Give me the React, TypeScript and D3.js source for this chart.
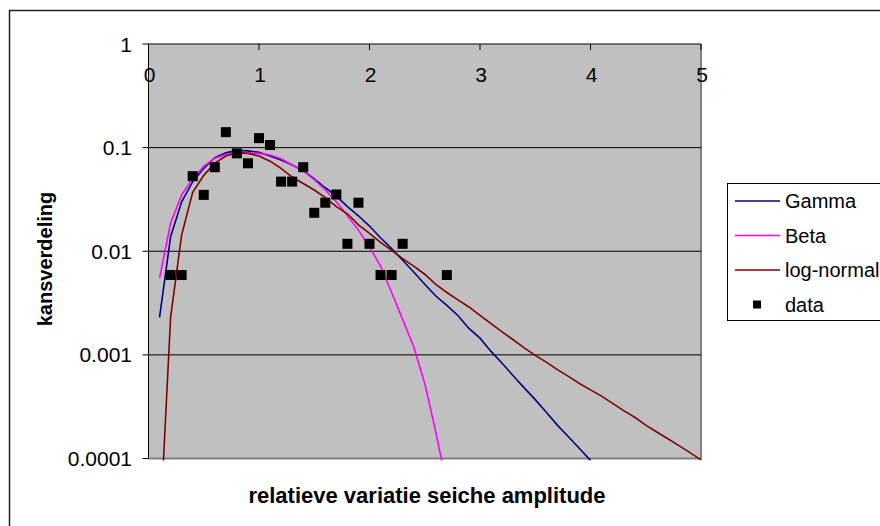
import React from "react";
import * as d3 from "d3";

const xSteps = [0.1,0.2,0.3,0.4,0.5,0.6,0.7,0.8,0.9,1.0,1.1,1.2,1.3,1.4,1.5,1.6,1.7,1.8,1.9,2.0,2.1,2.2,2.3,2.4,2.5,2.6,2.7,2.8,2.9,3.0,3.1,3.2,3.3,3.4,3.5,3.6,3.7,3.8,3.9,4.0,4.1,4.2,4.3,4.4,4.5,4.6,4.7,4.8,4.9,5.0];

const gammaValues = [0.0023,0.0138,0.030,0.047,0.063,0.080,0.089,0.094,0.093,0.090,0.083,0.076,0.068,0.060,0.050,0.041,0.034,0.027,0.022,0.0175,0.0135,0.0106,0.0082,0.0063,0.0048,0.0037,0.0030,0.0024,0.0018,0.00145,0.00108,0.00083,0.00063,0.00048,0.00037,0.00028,0.00021,0.000162,0.000125,0.000096];

const betaValues = [0.0055,0.0187,0.035,0.050,0.066,0.079,0.086,0.089,0.089,0.088,0.085,0.078,0.068,0.060,0.049,0.039,0.030,0.022,0.016,0.011,0.0072,0.0040,0.0022,0.0012,0.00053,0.00018,0.000055];

const lognormValues = [0.000017,0.0023,0.0144,0.037,0.054,0.071,0.083,0.089,0.088,0.083,0.074,0.063,0.052,0.045,0.039,0.033,0.027,0.023,0.018,0.0149,0.0122,0.0102,0.0085,0.0072,0.0060,0.0048,0.0040,0.0034,0.0029,0.0024,0.0020,0.00167,0.00140,0.00117,0.00099,0.00085,0.00072,0.00062,0.00053,0.00046,0.00040,0.00034,0.00029,0.00025,0.00021,0.00018,0.000155,0.000133,0.000114,0.000097];

const dataX = [0.2,0.3,0.4,0.5,0.6,0.7,0.8,0.9,1.0,1.1,1.2,1.3,1.4,1.5,1.6,1.7,1.8,1.9,2.0,2.1,2.2,2.3,2.7];
const dataY = [0.0059,0.0059,0.053,0.035,0.0647,0.141,0.088,0.0706,0.1235,0.106,0.047,0.047,0.0647,0.0235,0.0294,0.0353,0.0118,0.0294,0.0118,0.0059,0.0059,0.0118,0.0059];

const xTicks = [0,1,2,3,4,5];
const yTicks = [1,0.1,0.01,0.001,0.0001];
const yTickLabels = ["1","0.1","0.01","0.001","0.0001"];

const seriesNames = ["Gamma","Beta","log-normal","data"];
const seriesColors = ["#000080","#FF00FF","#800000","#000000"];

const FONT = "'Liberation Sans', Arial, sans-serif";

export default function App() {
  const left = 148.5, right = 701, top = 44, bottom = 458.5;
  const x = d3.scaleLinear().domain([0, 5]).range([left, right]);
  const y = d3.scaleLog().domain([0.0001, 1]).range([bottom, top]);

  const line = d3.line<[number, number]>().x(d => x(d[0])).y(d => y(d[1]));
  const mk = (vals: number[]) => vals.map((v, i) => [xSteps[i], v] as [number, number]);
  const curves = [mk(gammaValues), mk(betaValues), mk(lognormValues)];

  return (
    <svg width={880} height={526} style={{ position: "absolute", left: 0, top: 0, background: "#fff" }}>
      <defs>
        <clipPath id="plotClip">
          <rect x={left} y={top} width={right - left + 2} height={bottom - top + 2} />
        </clipPath>
      </defs>
      {/* outer frame */}
      <rect x={9.5} y={10.5} width={900} height={600} fill="none" stroke="#222" strokeWidth={1.5} />
      {/* plot area */}
      <rect x={left} y={top} width={right - left} height={bottom - top} fill="#C0C0C0" />
      <line x1={right} y1={top} x2={right} y2={bottom + 1} stroke="#808080" strokeWidth={2} />
      <line x1={left} y1={bottom} x2={right + 1} y2={bottom} stroke="#808080" strokeWidth={2} />
      {/* gridlines */}
      {yTicks.slice(1, 4).map((t, i) => (
        <line key={i} x1={left} x2={right} y1={y(t)} y2={y(t)} stroke="#000" strokeWidth={1} />
      ))}
      {/* curves */}
      <g clipPath="url(#plotClip)">
        {curves.map((c, i) => (
          <path key={i} d={line(c) || ""} fill="none" stroke={seriesColors[i]} strokeWidth={1.6} />
        ))}
      </g>
      {/* data */}
      {dataX.map((v, i) => (
        <rect key={i} x={x(v) - 5} y={y(dataY[i]) - 5} width={10} height={10} fill="#000" />
      ))}
      {/* axes */}
      <line x1={left} y1={top} x2={left} y2={bottom} stroke="#000" strokeWidth={1} />
      <line x1={left} y1={top} x2={right} y2={top} stroke="#000" strokeWidth={1} />
      {yTicks.map((t, i) => (
        <g key={i}>
          <line x1={left - 6} x2={left} y1={y(t)} y2={y(t)} stroke="#000" />
          <text x={132} y={y(t) + 7.5} textAnchor="end" fontFamily={FONT} fontSize={21} fill="#000">{yTickLabels[i]}</text>
        </g>
      ))}
      {xTicks.map((t, i) => (
        <g key={i}>
          <line x1={x(t)} x2={x(t)} y1={top} y2={top + 6} stroke="#000" />
          <text x={x(t) + 1} y={82} textAnchor="middle" fontFamily={FONT} fontSize={21} fill="#000">{t}</text>
        </g>
      ))}
      {/* axis titles */}
      <text x={427} y={503} textAnchor="middle" fontFamily={FONT} fontSize={22} fontWeight="bold" fill="#000">relatieve variatie seiche amplitude</text>
      <text transform="translate(52,259) rotate(-90)" textAnchor="middle" fontFamily={FONT} fontSize={20} fontWeight="bold" fill="#000">kansverdeling</text>
      {/* legend */}
      <rect x={727.5} y={183.5} width={200} height={137} fill="#fff" stroke="#000" strokeWidth={1} />
      {seriesNames.map((n, i) => {
        const ly = 201 + i * 34.5;
        return (
          <g key={n}>
            {i < 3 ? (
              <line x1={735} x2={780} y1={ly} y2={ly} stroke={seriesColors[i]} strokeWidth={1.6} />
            ) : (
              <rect x={753} y={ly - 4} width={8} height={8} fill="#000" />
            )}
            <text x={785} y={ly + 7} fontFamily={FONT} fontSize={20} fill="#000">{n}</text>
          </g>
        );
      })}
    </svg>
  );
}
